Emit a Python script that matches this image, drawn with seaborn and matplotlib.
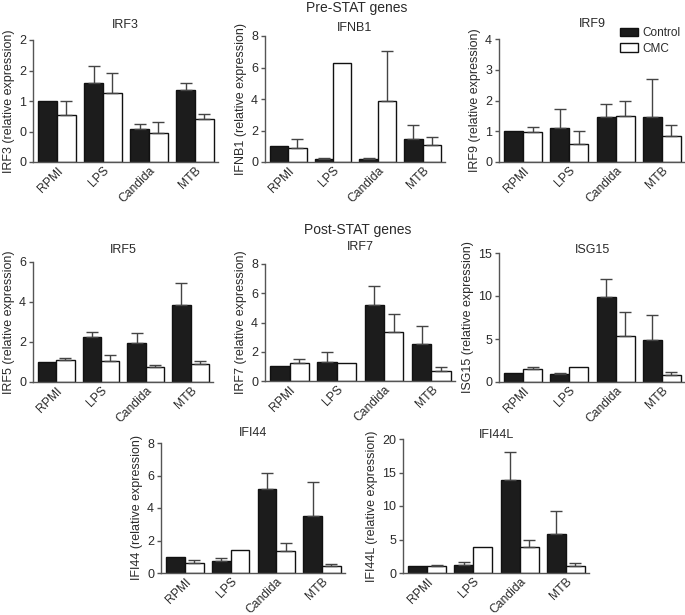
import numpy as np
import pandas as pd
import matplotlib
matplotlib.use("Agg")
import matplotlib.pyplot as plt
from matplotlib.patches import Patch
import seaborn as sns

sns.set_theme(style="white")
plt.rcParams['font.family'] = ['Liberation Sans', 'DejaVu Sans']
plt.rcParams['text.color'] = '#2a2a2a'
plt.rcParams['axes.labelcolor'] = '#2a2a2a'
plt.rcParams['xtick.color'] = '#2a2a2a'
plt.rcParams['ytick.color'] = '#2a2a2a'

categories = ["RPMI", "LPS", "Candida", "MTB"]
groups = ["Control", "CMC"]

irf3_ctrl = [1.00, 1.30, 0.54, 1.18]
irf3_ctrl_err = [0.0, 0.27, 0.09, 0.12]
irf3_cmc = [0.77, 1.13, 0.48, 0.70]
irf3_cmc_err = [0.23, 0.33, 0.17, 0.09]

ifnb1_ctrl = [1.00, 0.21, 0.20, 1.44]
ifnb1_ctrl_err = [0.0, 0.07, 0.08, 0.90]
ifnb1_cmc = [0.91, 6.26, 3.89, 1.06]
ifnb1_cmc_err = [0.58, 0.0, 3.16, 0.53]

irf9_ctrl = [1.00, 1.12, 1.47, 1.45]
irf9_ctrl_err = [0.0, 0.60, 0.42, 1.25]
irf9_cmc = [0.98, 0.60, 1.50, 0.85]
irf9_cmc_err = [0.16, 0.40, 0.48, 0.36]

irf5_ctrl = [1.00, 2.25, 1.95, 3.87]
irf5_ctrl_err = [0.0, 0.23, 0.50, 1.08]
irf5_cmc = [1.10, 1.03, 0.73, 0.90]
irf5_cmc_err = [0.10, 0.30, 0.12, 0.15]

irf7_ctrl = [1.00, 1.30, 5.23, 2.52]
irf7_ctrl_err = [0.0, 0.68, 1.27, 1.21]
irf7_cmc = [1.25, 1.23, 3.32, 0.66]
irf7_cmc_err = [0.23, 0.0, 1.23, 0.27]

isg15_ctrl = [1.00, 0.90, 9.90, 4.87]
isg15_ctrl_err = [0.0, 0.15, 2.10, 2.93]
isg15_cmc = [1.48, 1.71, 5.30, 0.82]
isg15_cmc_err = [0.23, 0.0, 2.80, 0.35]

ifi44_ctrl = [1.00, 0.73, 5.20, 3.53]
ifi44_ctrl_err = [0.0, 0.17, 0.93, 2.05]
ifi44_cmc = [0.59, 1.40, 1.38, 0.43]
ifi44_cmc_err = [0.20, 0.0, 0.47, 0.12]

ifi44l_ctrl = [1.00, 1.24, 13.9, 5.89]
ifi44l_ctrl_err = [0.0, 0.34, 4.17, 3.37]
ifi44l_cmc = [1.09, 3.91, 3.81, 1.04]
ifi44l_cmc_err = [0.15, 0.0, 1.19, 0.49]

irf3_ticks = [0, 0.5, 1.0, 1.5, 2.0]
irf3_ticklabels = ["0", "0", "1", "2", "2"]
ifnb1_ticks = [0, 2, 4, 6, 8]
irf9_ticks = [0, 1, 2, 3, 4]
irf5_ticks = [0, 2, 4, 6]
irf7_ticks = [0, 2, 4, 6, 8]
isg15_ticks = [0, 5, 10, 15]
ifi44_ticks = [0, 2, 4, 6, 8]
ifi44l_ticks = [0, 5, 10, 15, 20]

W, H = 685, 615
fig = plt.figure(figsize=(W / 100, H / 100), dpi=100)

def rect(l, r, t, b):
    return [l / W, 1 - b / H, (r - l) / W, (b - t) / H]

panels = [
    ("IRF3", irf3_ctrl, irf3_ctrl_err, irf3_cmc, irf3_cmc_err, irf3_ticks, irf3_ticklabels, (33, 218, 40, 162), 25),
    ("IFNB1", ifnb1_ctrl, ifnb1_ctrl_err, ifnb1_cmc, ifnb1_cmc_err, ifnb1_ticks, None, (265, 445, 36, 162), 28),
    ("IRF9", irf9_ctrl, irf9_ctrl_err, irf9_cmc, irf9_cmc_err, irf9_ticks, None, (499, 685, 39, 162), 24),
    ("IRF5", irf5_ctrl, irf5_ctrl_err, irf5_cmc, irf5_cmc_err, irf5_ticks, None, (33, 213, 262, 382), 250),
    ("IRF7", irf7_ctrl, irf7_ctrl_err, irf7_cmc, irf7_cmc_err, irf7_ticks, None, (265, 455, 264, 381), 247),
    ("ISG15", isg15_ctrl, isg15_ctrl_err, isg15_cmc, isg15_cmc_err, isg15_ticks, None, (499, 685, 253, 382), 250),
    ("IFI44", ifi44_ctrl, ifi44_ctrl_err, ifi44_cmc, ifi44_cmc_err, ifi44_ticks, None, (161, 345, 443, 573), 433),
    ("IFI44L", ifi44l_ctrl, ifi44l_ctrl_err, ifi44l_cmc, ifi44l_cmc_err, ifi44l_ticks, None, (403, 589, 439, 573), 435),
]

ctrl_color = "#1c1c1c"
spine_color = "#555555"

for name, c, ce, m, me, ticks, tlabels, (l, r, t, b), ty in panels:
    ax = fig.add_axes(rect(l, r, t, b))
    df = pd.DataFrame({
        "cat": categories * 2,
        "group": ["Control"] * 4 + ["CMC"] * 4,
        "val": list(c) + list(m),
    })
    sns.barplot(data=df, x="cat", y="val", hue="group", order=categories,
                hue_order=groups, palette={"Control": ctrl_color, "CMC": "white"},
                edgecolor="#111111", linewidth=1.0, width=0.82, errorbar=None,
                legend=False, ax=ax)
    for cont, errs in zip(ax.containers, [ce, me]):
        for bar, e in zip(cont, errs):
            if e > 0:
                x = bar.get_x() + bar.get_width() / 2
                y = bar.get_height()
                ax.errorbar([x], [y], yerr=[[0], [e]], fmt="none", ecolor="#444444",
                            elinewidth=1.0, capsize=4, capthick=1.0, zorder=3)
    ax.set_xlim(-0.52, 3.5)
    ax.set_ylim(0, ticks[-1])
    ax.set_yticks(ticks)
    if tlabels is not None:
        ax.set_yticklabels(tlabels)
    ax.set_xlabel("")
    ax.set_ylabel(f"{name} (relative expression)", fontsize=9, labelpad=3)
    ax.tick_params(axis="y", length=3, width=1, color=spine_color, labelsize=9, pad=2, left=True)
    ax.tick_params(axis="x", length=0, labelsize=8.7, pad=2)
    for lab in ax.get_xticklabels():
        lab.set_rotation(45)
        lab.set_ha("right")
        lab.set_rotation_mode("anchor")
    for s in ["top", "right"]:
        ax.spines[s].set_visible(False)
    for s in ["left", "bottom"]:
        ax.spines[s].set_color(spine_color)
        ax.spines[s].set_linewidth(1.0)
    fig.text(((l + r) / 2) / W, 1 - ty / H, name, ha="center", va="center", fontsize=9)

fig.text(357 / W, 1 - 8 / H, "Pre-STAT genes", ha="center", va="center", fontsize=10)
fig.text(358 / W, 1 - 230 / H, "Post-STAT genes", ha="center", va="center", fontsize=10)

handles = [Patch(facecolor=ctrl_color, edgecolor="#111111", linewidth=1.0, label="Control"),
           Patch(facecolor="white", edgecolor="#111111", linewidth=1.0, label="CMC")]
fig.legend(handles=handles, loc="upper left", bbox_to_anchor=(620 / W, 1 - 27 / H),
           frameon=False, fontsize=8.5, handlelength=1.5, handleheight=0.7,
           handletextpad=0.4, labelspacing=0.3, borderaxespad=0, borderpad=0)

fig.savefig("out.png", dpi=100)
